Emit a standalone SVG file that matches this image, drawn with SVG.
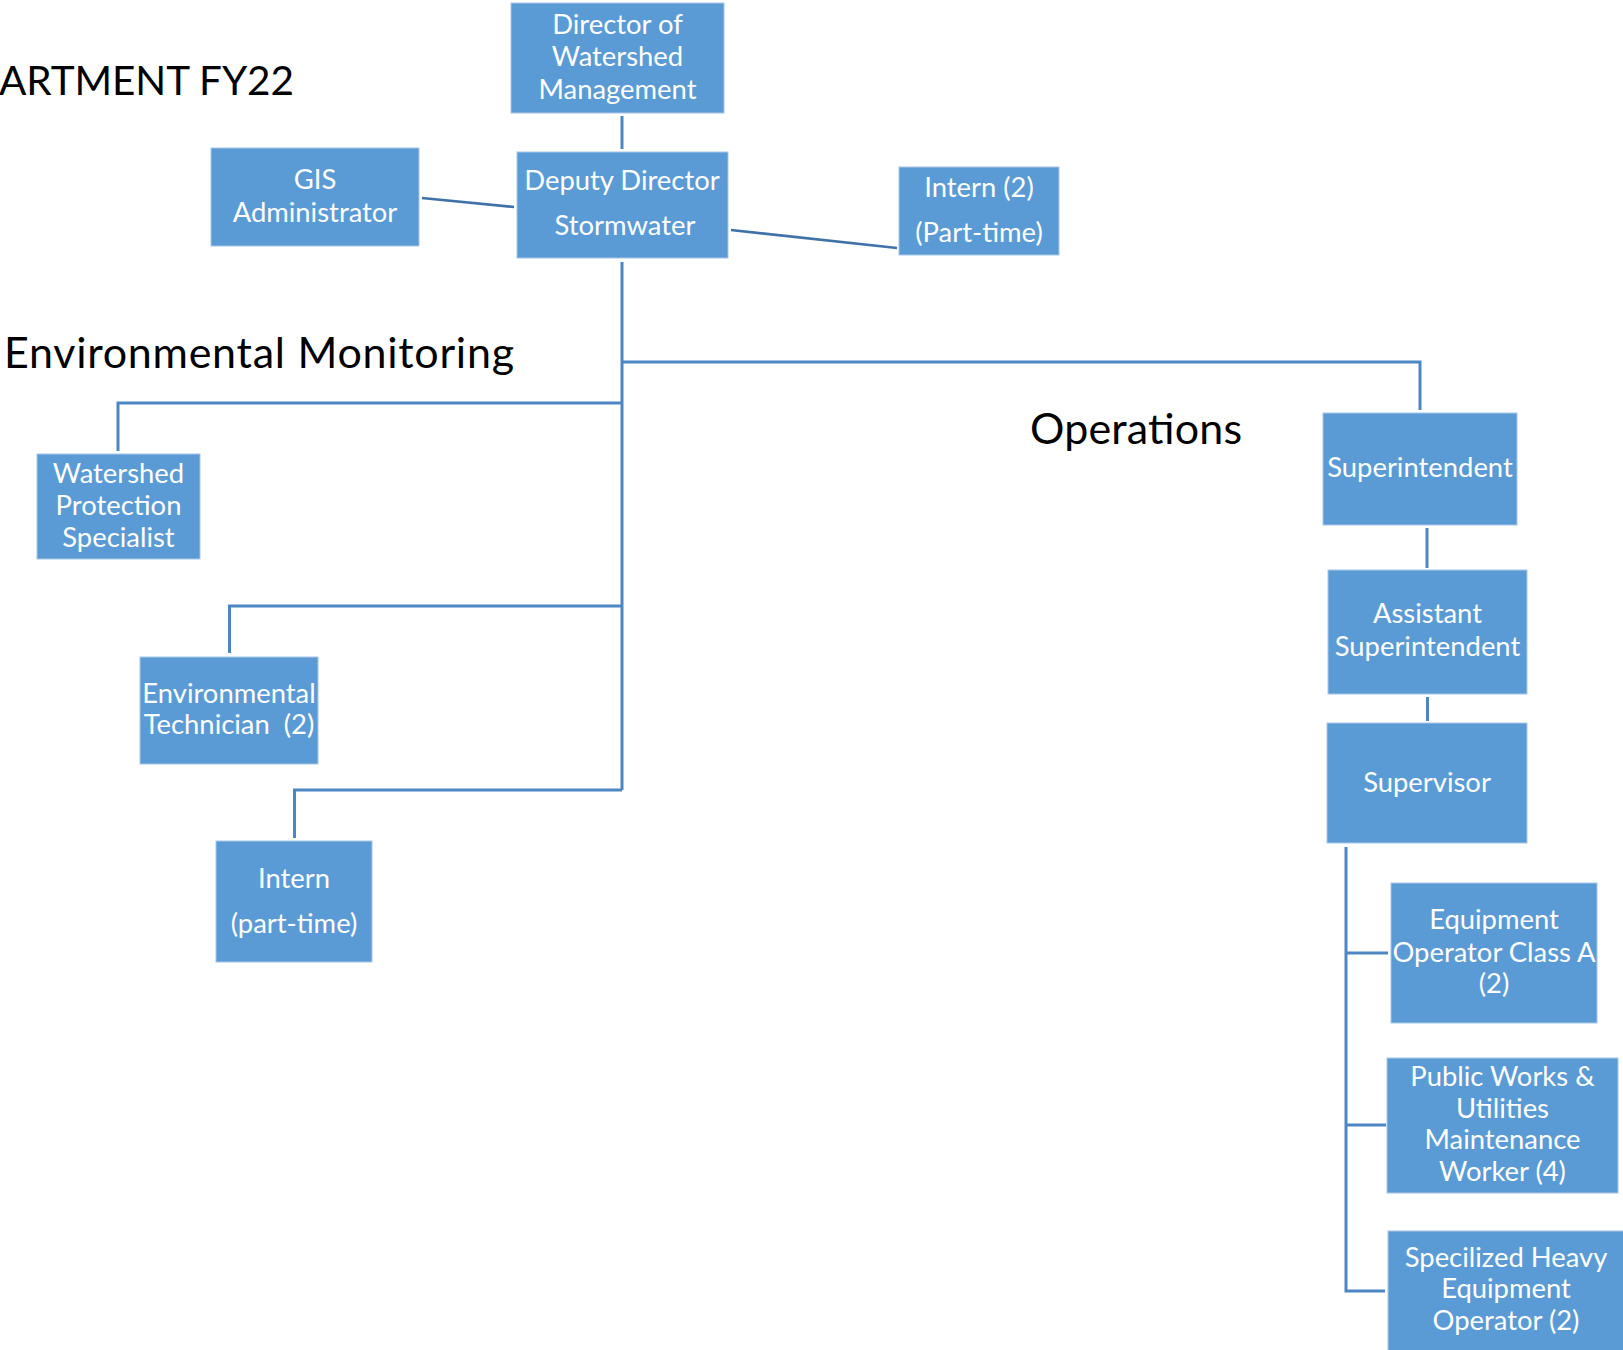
<svg xmlns="http://www.w3.org/2000/svg" width="1623" height="1350" viewBox="0 0 1623 1350">
  <style>
    .box { fill: #5B9BD5; stroke: #A7C7E7; stroke-width: 1; }
    .lbl { font-family: Lato, "Open Sans", "Liberation Sans", sans-serif; font-size: 27.4px; fill: #FFFFFF; text-anchor: middle; }
    .head { font-family: Lato, "Open Sans", "Liberation Sans", sans-serif; font-size: 43px; fill: #000000; }
    .title { font-size: 40.5px; }
    .link { fill: none; stroke: #4C86C3; stroke-width: 3; }
    .slant { fill: none; stroke: #3F72A8; stroke-width: 2.6; }
  </style>

  <rect width="1623" height="1350" fill="#FFFFFF"/>

  <!-- section headings -->
  <text class="head title" x="-1" y="95" textLength="295">ARTMENT FY22</text>
  <text class="head" x="4" y="368" textLength="510">Environmental Monitoring</text>
  <text class="head" x="1030" y="444" textLength="212">Operations</text>

  <!-- reporting lines -->
  <g id="connectors">
    <path class="link" d="M622,116 V149"/>
    <path class="slant" d="M422,198 L514,207"/>
    <path class="slant" d="M731,230 L897,248"/>
    <path class="link" d="M622,262 V790"/>
    <path class="link" d="M622,362 H1420 V410"/>
    <path class="link" d="M622,403 H118 V451"/>
    <path class="link" d="M622,606 H229.5 V653"/>
    <path class="link" d="M622,790 H294.5 V838"/>
    <path class="link" d="M1427,528 V568"/>
    <path class="link" d="M1427.5,697 V721"/>
    <path class="link" d="M1346,847 V1291 H1385"/>
    <path class="link" d="M1346,953 H1388"/>
    <path class="link" d="M1346,1125 H1386"/>
  </g>

  <g id="director">
    <rect class="box" x="511" y="3" width="213" height="110"/>
    <text class="lbl" x="617.5" y="34">Director of</text>
    <text class="lbl" x="617.5" y="66">Watershed</text>
    <text class="lbl" x="617.5" y="98.5">Management</text>
  </g>

  <g id="gis-admin">
    <rect class="box" x="211" y="148" width="208" height="98"/>
    <text class="lbl" x="315" y="189">GIS</text>
    <text class="lbl" x="315" y="222">Administrator</text>
  </g>

  <g id="deputy-director">
    <rect class="box" x="517" y="152" width="211" height="106"/>
    <text class="lbl" x="622" y="190">Deputy Director</text>
    <text class="lbl" x="625" y="235">Stormwater</text>
  </g>

  <g id="intern-pt2">
    <rect class="box" x="899" y="167" width="160" height="88"/>
    <text class="lbl" x="979" y="197">Intern (2)</text>
    <text class="lbl" x="979" y="242">(Part-time)</text>
  </g>

  <g id="watershed-specialist">
    <rect class="box" x="37" y="454" width="163" height="105"/>
    <text class="lbl" x="118.5" y="483">Watershed</text>
    <text class="lbl" x="118.5" y="515">Protection</text>
    <text class="lbl" x="118.5" y="547">Specialist</text>
  </g>

  <g id="env-technician">
    <rect class="box" x="140" y="657" width="178" height="107"/>
    <text class="lbl" x="229" y="703">Environmental</text>
    <text class="lbl" x="229" y="734" xml:space="preserve">Technician  (2)</text>
  </g>

  <g id="intern-pt">
    <rect class="box" x="216" y="841" width="156" height="121"/>
    <text class="lbl" x="294" y="888">Intern</text>
    <text class="lbl" x="294" y="933">(part-time)</text>
  </g>

  <g id="superintendent">
    <rect class="box" x="1323" y="413" width="194" height="112"/>
    <text class="lbl" x="1420" y="476.5">Superintendent</text>
  </g>

  <g id="asst-superintendent">
    <rect class="box" x="1328" y="570" width="199" height="124"/>
    <text class="lbl" x="1427.5" y="623">Assistant</text>
    <text class="lbl" x="1427.5" y="656">Superintendent</text>
  </g>

  <g id="supervisor">
    <rect class="box" x="1327" y="723" width="200" height="120"/>
    <text class="lbl" x="1427" y="791.5">Supervisor</text>
  </g>

  <g id="equipment-operator">
    <rect class="box" x="1391" y="883" width="206" height="140"/>
    <text class="lbl" x="1494" y="929">Equipment</text>
    <text class="lbl" x="1494" y="961.5">Operator Class A</text>
    <text class="lbl" x="1494" y="993">(2)</text>
  </g>

  <g id="maintenance-worker">
    <rect class="box" x="1387" y="1058" width="231" height="135"/>
    <text class="lbl" x="1502.5" y="1086">Public Works &amp;</text>
    <text class="lbl" x="1502.5" y="1118">Utilities</text>
    <text class="lbl" x="1502.5" y="1149">Maintenance</text>
    <text class="lbl" x="1502.5" y="1181">Worker (4)</text>
  </g>

  <g id="heavy-equipment-operator">
    <rect class="box" x="1388" y="1231" width="237" height="121"/>
    <text class="lbl" x="1506" y="1267">Specilized Heavy</text>
    <text class="lbl" x="1506" y="1298">Equipment</text>
    <text class="lbl" x="1506" y="1330">Operator (2)</text>
  </g>
</svg>
